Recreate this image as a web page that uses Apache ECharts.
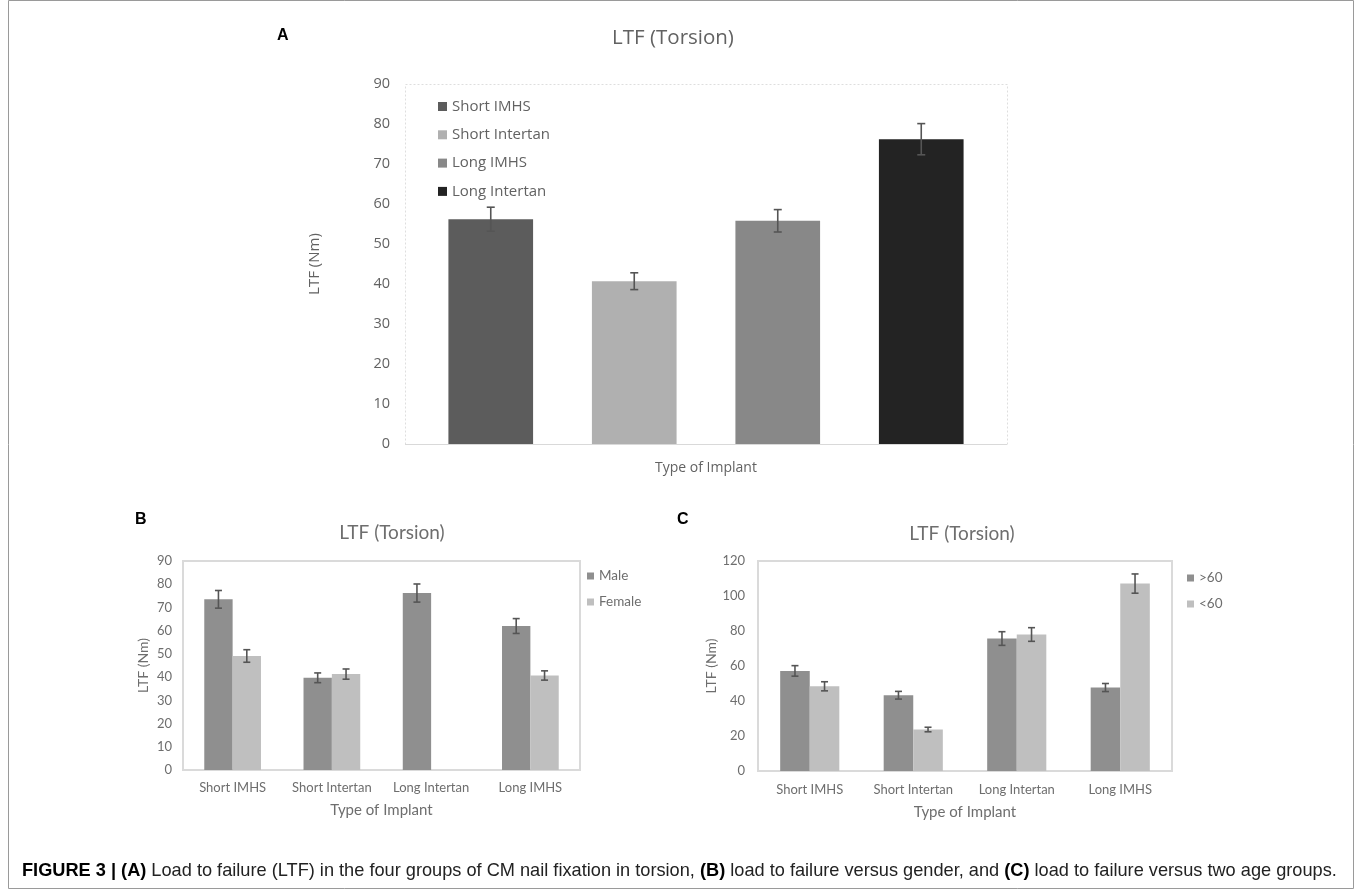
<!DOCTYPE html>
<html><head><meta charset="utf-8">
<script src="https://cdn.jsdelivr.net/npm/echarts@6/dist/echarts.min.js"></script>
<style>html,body{margin:0;padding:0;background:#fff}#c{width:1362px;height:893px}</style>
</head><body><div id="c"></div>
<script>
// ---------- DATA ----------
const catsA = ['Short IMHS', 'Short Intertan', 'Long IMHS', 'Long Intertan'];
const valsA = [56.2, 40.7, 55.8, 76.2];
const errA = [3.0, 2.1, 2.8, 3.9];
const yTicksA = [0, 10, 20, 30, 40, 50, 60, 70, 80, 90];

const catsBC = ['Short IMHS', 'Short Intertan', 'Long Intertan', 'Long IMHS'];
const seriesB = ['Male', 'Female'];
const maleVals = [73.5, 39.7, 76.2, 62.0];
const maleErr = [3.8, 2.1, 3.9, 3.2];
const femaleVals = [49.1, 41.3, null, 40.7];
const femaleErr = [2.7, 2.2, null, 2.0];
const yTicksB = [0, 10, 20, 30, 40, 50, 60, 70, 80, 90];

const seriesC = ['>60', '<60'];
const over60Vals = [57.2, 43.3, 75.7, 47.7];
const over60Err = [3.0, 2.2, 3.9, 2.3];
const under60Vals = [48.4, 23.7, 78.0, 107.1];
const under60Err = [2.6, 1.3, 3.9, 5.5];
const yTicksC = [0, 20, 40, 60, 80, 100, 120];

const panelTitle = 'LTF (Torsion)';
const yName = 'LTF (Nm)';
const xName = 'Type of Implant';
const caption = '{b|FIGURE 3 | (A)} Load to failure (LTF) in the four groups of CM nail fixation in torsion, {b|(B)} load to failure versus gender, and {b|(C)} load to failure versus two age groups.';

// ---------- STYLE ----------
const colorsA = ['#5c5c5c', '#b0b0b0', '#888888', '#232323'];
const colorDark = '#8f8f8f', colorLight = '#bfbfbf';
const errColor = '#555555';
const fontA = 'Open Sans', fontBC = 'Lato';
const txtA = '#626262', txtBC = '#6e6e6e';
const gA = {left: 419, top: 84, width: 574, height: 360};
const gB = {left: 183, top: 561, width: 397, height: 209};
const gC = {left: 758, top: 561, width: 414, height: 210};

function errSeries(idx, vals, errs, offsetFrac, cap) {
  const data = vals.map((v, i) => v == null ? null : [i, v - errs[i], v + errs[i]]).filter(d => d);
  return {
    type: 'custom', name: 'err' + idx + '_' + offsetFrac, xAxisIndex: idx, yAxisIndex: idx, z: 10, silent: true,
    data: data, encode: {x: 0, y: [1, 2]},
    renderItem: function (params, api) {
      const i = api.value(0);
      const band = api.size([1, 0])[0];
      const lo = api.coord([i, api.value(1)]);
      const hi = api.coord([i, api.value(2)]);
      const x = lo[0] + band * offsetFrac;
      const st = {stroke: errColor, lineWidth: 1.6};
      return {type: 'group', children: [
        {type: 'line', shape: {x1: x, y1: lo[1], x2: x, y2: hi[1]}, style: st},
        {type: 'line', shape: {x1: x - cap, y1: hi[1], x2: x + cap, y2: hi[1]}, style: st},
        {type: 'line', shape: {x1: x - cap, y1: lo[1], x2: x + cap, y2: lo[1]}, style: st}
      ]};
    }
  };
}

function yAxisOf(idx, ticks, font, size, color, margin, nameGap, nameSize) {
  return {
    type: 'value', gridIndex: idx, min: ticks[0], max: ticks[ticks.length - 1], interval: ticks[1] - ticks[0],
    axisLine: {show: false}, axisTick: {show: false}, splitLine: {show: false},
    axisLabel: {color: color, fontFamily: font, fontSize: size, margin: margin},
    name: yName, nameLocation: 'middle', nameGap: nameGap,
    nameTextStyle: {color: color, fontFamily: font, fontSize: nameSize}
  };
}

const series = [];
catsA.forEach((c, i) => {
  series.push({
    type: 'bar', name: c, xAxisIndex: 0, yAxisIndex: 0, stack: 'A', barCategoryGap: '41%',
    itemStyle: {color: colorsA[i]},
    data: catsA.map((_, j) => j === i ? valsA[i] : '-')
  });
});
series.push(errSeries(0, valsA, errA, 0, 4));
[[maleVals, colorDark], [femaleVals, colorLight]].forEach((p, k) => {
  series.push({type: 'bar', name: seriesB[k], xAxisIndex: 1, yAxisIndex: 1, barGap: '0%', barCategoryGap: '42.86%',
    itemStyle: {color: p[1]}, data: p[0].map(v => v == null ? '-' : v)});
});
series.push(errSeries(1, maleVals, maleErr, -1 / 7, 3.5));
series.push(errSeries(1, femaleVals, femaleErr, 1 / 7, 3.5));
[[over60Vals, colorDark], [under60Vals, colorLight]].forEach((p, k) => {
  series.push({type: 'bar', name: seriesC[k], xAxisIndex: 2, yAxisIndex: 2, barGap: '0%', barCategoryGap: '42.86%',
    itemStyle: {color: p[1]}, data: p[0]});
});
series.push(errSeries(2, over60Vals, over60Err, -1 / 7, 3.5));
series.push(errSeries(2, under60Vals, under60Err, 1 / 7, 3.5));

const bcAxisLine = {lineStyle: {color: '#dadada', width: 2}};
const chart = echarts.init(document.getElementById('c'), null, {renderer: 'canvas'});
chart.setOption({
  backgroundColor: '#fff',
  animation: false,
  grid: [
    Object.assign({show: false}, gA),
    Object.assign({show: true, borderColor: '#dadada', borderWidth: 2}, gB),
    Object.assign({show: true, borderColor: '#dadada', borderWidth: 2}, gC)
  ],
  xAxis: [
    {type: 'category', gridIndex: 0, data: catsA, axisLine: {show: false}, axisTick: {show: false},
      axisLabel: {show: false}, name: xName, nameLocation: 'middle', nameGap: 17,
      nameTextStyle: {color: txtA, fontFamily: fontA, fontSize: 14}},
    {type: 'category', gridIndex: 1, data: catsBC, axisLine: bcAxisLine, axisTick: {show: false},
      axisLabel: {interval: 0, color: txtBC, fontFamily: fontBC, fontSize: 13, margin: 11},
      name: xName, nameLocation: 'middle', nameGap: 33,
      nameTextStyle: {color: txtBC, fontFamily: fontBC, fontSize: 15}},
    {type: 'category', gridIndex: 2, data: catsBC, axisLine: bcAxisLine, axisTick: {show: false},
      axisLabel: {interval: 0, color: txtBC, fontFamily: fontBC, fontSize: 13, margin: 12},
      name: xName, nameLocation: 'middle', nameGap: 34,
      nameTextStyle: {color: txtBC, fontFamily: fontBC, fontSize: 15}}
  ],
  yAxis: [
    yAxisOf(0, yTicksA, fontA, 14.5, txtA, 29, 97, 15),
    yAxisOf(1, yTicksB, fontBC, 13, txtBC, 11, 33, 14),
    yAxisOf(2, yTicksC, fontBC, 13, txtBC, 13, 38, 14)
  ],
  legend: [
    {data: catsA, orient: 'vertical', left: 438, top: 98, padding: 0, itemWidth: 9, itemHeight: 9, itemGap: 11.3, icon: 'rect',
      selectedMode: false, textStyle: {color: txtA, fontFamily: fontA, fontSize: 15, lineHeight: 17}},
    {data: seriesB, orient: 'vertical', left: 587, top: 568, padding: 0, itemWidth: 7, itemHeight: 7, itemGap: 10, icon: 'rect',
      selectedMode: false, textStyle: {color: txtBC, fontFamily: fontBC, fontSize: 13.5, lineHeight: 16}},
    {data: seriesC, orient: 'vertical', left: 1187, top: 570, padding: 0, itemWidth: 7, itemHeight: 7, itemGap: 10, icon: 'rect',
      selectedMode: false, textStyle: {color: txtBC, fontFamily: fontBC, fontSize: 13.5, lineHeight: 16}}
  ],
  graphic: [
    {type: 'rect', shape: {x: 8.5, y: 0.5, width: 1345, height: 888}, style: {fill: 'none', stroke: '#9a9a9a', lineWidth: 1}, z: 0},
    {type: 'rect', shape: {x: gA.left - 14 + 0.5, y: gA.top + 0.5, width: gA.width + 28, height: gA.height},
      style: {fill: 'none', stroke: '#dedede', lineWidth: 1, lineDash: [2, 2]}, z: 0},
    {type: 'line', shape: {x1: gA.left - 14, y1: gA.top + gA.height + 0.5, x2: gA.left + gA.width + 14, y2: gA.top + gA.height + 0.5},
      style: {stroke: '#d9d9d9', lineWidth: 1}, z: 0},
    {type: 'text', x: 277, y: 36, style: {text: 'A', font: 'bold 16px "Liberation Sans"', fill: '#000', verticalAlign: 'middle'}},
    {type: 'text', x: 135, y: 520, style: {text: 'B', font: 'bold 16px "Liberation Sans"', fill: '#000', verticalAlign: 'middle'}},
    {type: 'text', x: 677, y: 520, style: {text: 'C', font: 'bold 16px "Liberation Sans"', fill: '#000', verticalAlign: 'middle'}},
    {type: 'text', x: 673, y: 38, style: {text: panelTitle, font: '20.5px "Open Sans"', fill: txtA, align: 'center', verticalAlign: 'middle'}},
    {type: 'text', x: 392, y: 533, style: {text: panelTitle, font: '19px Lato', fill: txtBC, align: 'center', verticalAlign: 'middle'}},
    {type: 'text', x: 962, y: 534, style: {text: panelTitle, font: '19px Lato', fill: txtBC, align: 'center', verticalAlign: 'middle'}},
    {type: 'text', x: 22, y: 871, style: {text: caption, font: '18.2px "Liberation Sans"', fill: '#222',
      verticalAlign: 'middle', rich: {b: {fontWeight: 'bold', fontSize: 18.2, fontFamily: 'Liberation Sans', fill: '#000'}}}}
  ],
  series: series
});
</script></body></html>
